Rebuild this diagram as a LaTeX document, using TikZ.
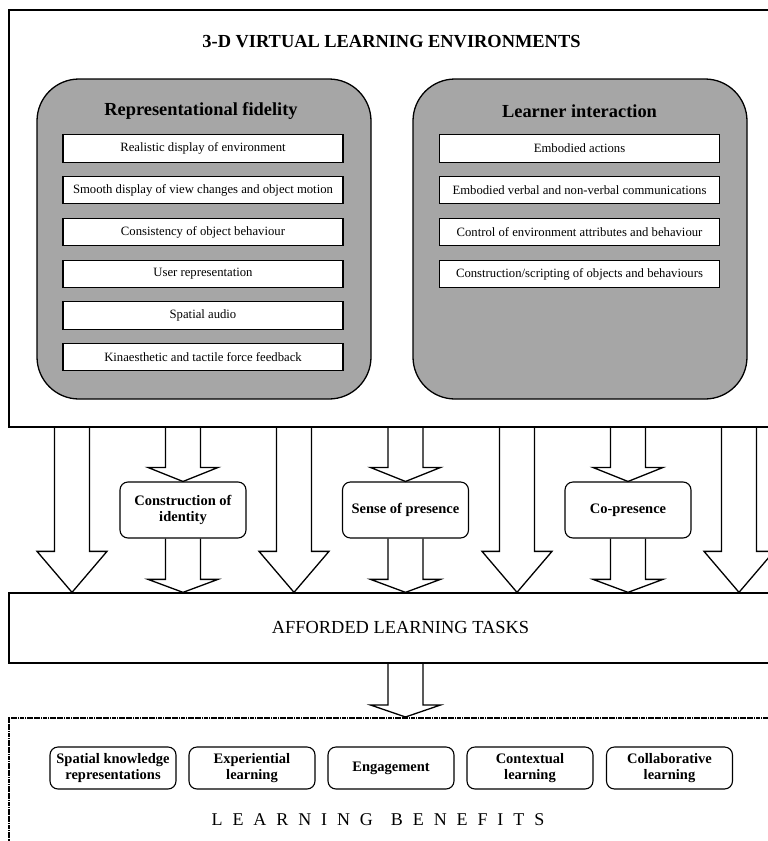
\documentclass[tikz,border=0pt]{standalone}
\usepackage{fontspec}
\setmainfont{Liberation Serif}
\usetikzlibrary{calc}
\definecolor{panelgray}{RGB}{166,166,166}
\tikzset{
  frame/.style={draw, line width=1.3pt, fill=white, rectangle, inner sep=0pt},
  benefitframe/.style={draw, line width=2pt, dash pattern=on 1.8pt off 0.5pt, rectangle, inner sep=0pt},
  panel/.style={draw, line width=1.3pt, fill=panelgray, rounded corners=42pt, inner sep=0pt},
  item/.style={draw, line width=1.2pt, fill=white, inner sep=0pt, minimum height=27.5pt,
    font=\fontsize{12.7}{14}\selectfont},
  heading/.style={font=\bfseries\fontsize{18.4}{22}\selectfont},
  midbox/.style={draw, line width=1.1pt, fill=white, rounded corners=8pt, inner sep=0pt,
    minimum width=126pt, minimum height=56pt, align=center,
    font=\bfseries\fontsize{14.5}{16.5}\selectfont},
  benefit/.style={draw, line width=1.1pt, fill=white, rounded corners=8pt, inner sep=0pt,
    minimum width=126pt, minimum height=42pt, align=center,
    font=\bfseries\fontsize{14.5}{16}\selectfont},
  blockarrow/.style={draw, line width=1.3pt, line join=miter},
}
% hollow block arrow: #1 = x of its axis, #2 = start anchor, #3 = tip anchor, #4 = head length
\newcommand\blockarr[4]{%
  \path (#1,0 |- #2) coordinate (ba-s) (#1,0 |- #3) coordinate (ba-t);
  \draw[blockarrow] ($(ba-s)+(-17.5,0)$) -- ($(ba-t)+(-17.5,-#4)$) -- ($(ba-t)+(-35,-#4)$)
    -- (ba-t) -- ($(ba-t)+(35,-#4)$) -- ($(ba-t)+(17.5,-#4)$) -- ($(ba-s)+(17.5,0)$);}
\begin{document}
\begin{tikzpicture}[x=1pt, y=-1pt]
\useasboundingbox[fill=white] (0,0) rectangle (768,841);

% environment frame
\node[frame, minimum width=790pt, minimum height=417pt] (vle) at (404,218.5) {};
\node[heading] (vletitle) at (391.5,42) {3-D VIRTUAL LEARNING ENVIRONMENTS};

% two feature panels
\node[panel, minimum width=334pt, minimum height=320pt] (fid) at (204,239) {};
\node[panel, minimum width=334pt, minimum height=320pt] (inter) at (580,239) {};
\node[heading] (fidtitle) at (201,111) {Representational fidelity};
\node[heading] (intertitle) at (579.5,111) {Learner interaction};

\begin{scope}[every node/.style={item, minimum width=280pt}]
\node (f1) at (203,148.5) {Realistic display of environment};
\node (f2) at (203,190) {Smooth display of view changes and object motion};
\node (f3) at (203,232) {Consistency of object behaviour};
\node (f4) at (203,274) {User representation};
\node (f5) at (203,315.5) {Spatial audio};
\node (f6) at (203,357) {Kinaesthetic and tactile force feedback};
\node (i1) at (579.5,148.5) {Embodied actions};
\node (i2) at (579.5,190) {Embodied verbal and non-verbal communications};
\node (i3) at (579.5,232) {Control of environment attributes and behaviour};
\node (i4) at (579.5,274) {Construction/scripting of objects and behaviours};
\end{scope}

% afforded tasks frame
\node[frame, minimum width=790pt, minimum height=70pt] (tasks) at (404,628) {};
\node[font=\fontsize{18.4}{22}\selectfont] (taskstitle) at (400.5,627) {AFFORDED LEARNING TASKS};

% intermediate outcomes
\node[midbox] (identity) at (183,510) {Construction of\\identity};
\node[midbox] (presence) at (405.5,510) {Sense of presence};
\node[midbox] (copresence) at (628,510) {Co-presence};

% benefits frame
\node[benefitframe, minimum width=790pt, minimum height=160pt] (benefits) at (404,798) {};
\node[benefit] (b1) at (113,768) {Spatial knowledge\\representations};
\node[benefit] (b2) at (252,768) {Experiential\\learning};
\node[benefit] (b3) at (391,768) {Engagement};
\node[benefit] (b4) at (530,768) {Contextual\\learning};
\node[benefit] (b5) at (669.5,768) {Collaborative\\learning};
\node[font=\fontsize{18}{22}\selectfont\addfontfeature{LetterSpace=55}] (benefitstitle) at (378,820)
  {LEARNING\hspace{18pt}BENEFITS};

% direct arrows from environment to tasks
\blockarr{72}{vle.south}{tasks.north}{41}
\blockarr{294}{vle.south}{tasks.north}{41}
\blockarr{517}{vle.south}{tasks.north}{41}
\blockarr{739}{vle.south}{tasks.north}{41}

% arrows through the intermediate outcomes
\blockarr{183}{vle.south}{identity.north}{14}
\blockarr{183}{identity.south}{tasks.north}{13}
\blockarr{405.5}{vle.south}{presence.north}{14}
\blockarr{405.5}{presence.south}{tasks.north}{13}
\blockarr{628}{vle.south}{copresence.north}{14}
\blockarr{628}{copresence.south}{tasks.north}{13}

% tasks to benefits
\blockarr{405.5}{tasks.south}{benefits.north}{12}
\end{tikzpicture}
\end{document}
